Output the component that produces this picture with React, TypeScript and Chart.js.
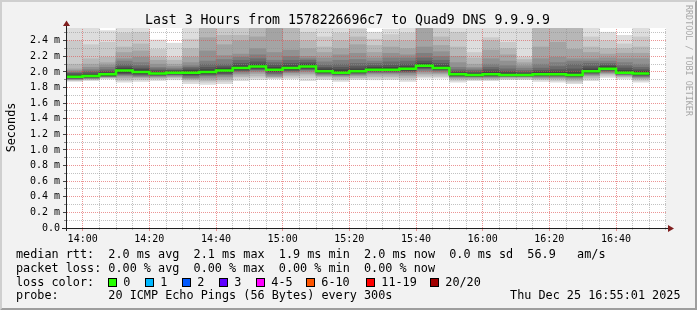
import React, { useEffect, useRef } from 'react';
import { Chart, registerables } from 'chart.js';

Chart.register(...registerables);

// ---------- data ----------
const axisStart = '13:55';
const axisEnd = '16:55';

const binStartTimes = [
  '13:55', '14:00', '14:05', '14:10', '14:15', '14:20', '14:25', '14:30', '14:35', '14:40',
  '14:45', '14:50', '14:55', '15:00', '15:05', '15:10', '15:15', '15:20', '15:25', '15:30',
  '15:35', '15:40', '15:45', '15:50', '15:55', '16:00', '16:05', '16:10', '16:15', '16:20',
  '16:25', '16:30', '16:35', '16:40', '16:45',
];

// median rtt per 5-minute bin (ms)
const medianRtt = [
  1.94, 1.95, 1.97, 2.02, 2.00, 1.98, 1.99, 1.99, 2.00, 2.02,
  2.05, 2.07, 2.03, 2.05, 2.07, 2.01, 1.99, 2.01, 2.03, 2.03,
  2.04, 2.08, 2.05, 1.97, 1.96, 1.97, 1.96, 1.96, 1.97, 1.97,
  1.96, 2.01, 2.04, 1.99, 1.98,
];

// 20 sorted ping rtts per bin (ms), read from the smoke
const smokePings = [
  [1.88, 1.89, 1.90, 1.90, 1.91, 1.91, 1.92, 1.92, 1.93, 1.93, 1.95, 1.96, 1.98, 1.99, 2.00, 2.02, 2.04, 2.10, 2.40, 2.70],
  [1.89, 1.90, 1.91, 1.91, 1.92, 1.92, 1.93, 1.93, 1.94, 1.94, 1.95, 1.97, 1.99, 2.01, 2.03, 2.06, 2.10, 2.17, 2.35, 2.70],
  [1.91, 1.92, 1.93, 1.93, 1.94, 1.94, 1.95, 1.95, 1.96, 1.96, 1.97, 1.99, 2.01, 2.03, 2.06, 2.09, 2.12, 2.19, 2.38, 2.53],
  [1.87, 1.89, 1.91, 1.93, 1.95, 1.96, 1.97, 1.98, 1.99, 2.01, 2.03, 2.05, 2.07, 2.10, 2.14, 2.17, 2.25, 2.32, 2.50, 2.70],
  [1.88, 1.90, 1.92, 1.93, 1.94, 1.95, 1.96, 1.97, 1.98, 1.99, 2.01, 2.03, 2.05, 2.08, 2.12, 2.19, 2.27, 2.36, 2.51, 2.65],
  [1.89, 1.91, 1.92, 1.93, 1.94, 1.95, 1.96, 1.96, 1.97, 1.97, 1.99, 2.00, 2.02, 2.04, 2.06, 2.10, 2.15, 2.19, 2.29, 2.41],
  [1.90, 1.92, 1.93, 1.94, 1.95, 1.96, 1.97, 1.97, 1.98, 1.98, 2.00, 2.01, 2.02, 2.03, 2.05, 2.07, 2.10, 2.15, 2.19, 2.37],
  [1.85, 1.88, 1.90, 1.91, 1.92, 1.93, 1.95, 1.96, 1.97, 1.98, 2.00, 2.02, 2.04, 2.06, 2.08, 2.12, 2.19, 2.30, 2.42, 2.70],
  [1.84, 1.87, 1.89, 1.91, 1.93, 1.95, 1.96, 1.97, 1.98, 1.99, 2.01, 2.03, 2.06, 2.10, 2.14, 2.27, 2.44, 2.60, 2.70, 2.80],
  [1.85, 1.88, 1.90, 1.92, 1.94, 1.96, 1.97, 1.98, 2.00, 2.01, 2.03, 2.05, 2.07, 2.10, 2.16, 2.21, 2.35, 2.47, 2.62, 2.75],
  [1.89, 1.92, 1.94, 1.96, 1.98, 2.00, 2.01, 2.02, 2.03, 2.04, 2.06, 2.08, 2.11, 2.15, 2.19, 2.23, 2.40, 2.47, 2.62, 2.75],
  [1.90, 1.93, 1.95, 1.98, 2.00, 2.02, 2.03, 2.04, 2.05, 2.06, 2.08, 2.10, 2.13, 2.17, 2.22, 2.30, 2.45, 2.58, 2.68, 2.80],
  [1.91, 1.92, 1.93, 1.94, 1.95, 1.97, 1.98, 2.00, 2.01, 2.02, 2.04, 2.06, 2.09, 2.12, 2.15, 2.25, 2.58, 2.62, 2.70, 2.80],
  [1.91, 1.93, 1.95, 1.97, 1.99, 2.00, 2.01, 2.02, 2.03, 2.04, 2.06, 2.08, 2.11, 2.15, 2.20, 2.28, 2.40, 2.58, 2.70, 2.80],
  [1.89, 1.93, 1.96, 1.98, 2.00, 2.02, 2.03, 2.04, 2.05, 2.06, 2.08, 2.10, 2.12, 2.15, 2.17, 2.20, 2.30, 2.40, 2.51, 2.70],
  [1.90, 1.92, 1.94, 1.95, 1.96, 1.97, 1.98, 1.99, 2.00, 2.00, 2.02, 2.04, 2.06, 2.09, 2.13, 2.18, 2.25, 2.32, 2.45, 2.70],
  [1.88, 1.90, 1.92, 1.94, 1.95, 1.96, 1.97, 1.97, 1.98, 1.98, 2.00, 2.03, 2.06, 2.10, 2.15, 2.22, 2.30, 2.40, 2.50, 2.70],
  [1.90, 1.92, 1.93, 1.95, 1.96, 1.97, 1.98, 1.99, 2.00, 2.00, 2.02, 2.04, 2.07, 2.11, 2.16, 2.24, 2.35, 2.45, 2.55, 2.70],
  [1.90, 1.92, 1.94, 1.96, 1.98, 1.99, 2.00, 2.01, 2.02, 2.02, 2.04, 2.06, 2.08, 2.11, 2.14, 2.18, 2.25, 2.34, 2.42, 2.51],
  [1.90, 1.92, 1.94, 1.96, 1.98, 1.99, 2.00, 2.01, 2.02, 2.02, 2.04, 2.06, 2.09, 2.13, 2.18, 2.24, 2.32, 2.40, 2.48, 2.55],
  [1.88, 1.91, 1.93, 1.95, 1.97, 1.99, 2.00, 2.01, 2.02, 2.03, 2.05, 2.07, 2.10, 2.14, 2.18, 2.22, 2.30, 2.40, 2.50, 2.70],
  [1.92, 1.94, 1.96, 1.98, 2.00, 2.02, 2.04, 2.05, 2.06, 2.07, 2.09, 2.11, 2.14, 2.18, 2.24, 2.32, 2.58, 2.65, 2.75, 2.85],
  [1.92, 1.94, 1.96, 1.98, 1.99, 2.01, 2.02, 2.03, 2.04, 2.04, 2.06, 2.08, 2.11, 2.15, 2.20, 2.26, 2.34, 2.45, 2.58, 2.70],
  [1.87, 1.89, 1.91, 1.92, 1.93, 1.94, 1.95, 1.95, 1.96, 1.96, 1.98, 1.99, 2.01, 2.03, 2.06, 2.12, 2.20, 2.32, 2.51, 2.70],
  [1.89, 1.90, 1.91, 1.92, 1.93, 1.94, 1.94, 1.95, 1.95, 1.96, 1.97, 1.98, 2.00, 2.02, 2.04, 2.06, 2.10, 2.18, 2.25, 2.70],
  [1.89, 1.90, 1.91, 1.92, 1.93, 1.94, 1.95, 1.95, 1.96, 1.96, 1.98, 2.00, 2.03, 2.06, 2.10, 2.17, 2.28, 2.40, 2.44, 2.70],
  [1.90, 1.91, 1.92, 1.93, 1.94, 1.94, 1.95, 1.95, 1.96, 1.96, 1.97, 1.99, 2.01, 2.04, 2.08, 2.14, 2.22, 2.30, 2.38, 2.70],
  [1.90, 1.91, 1.92, 1.93, 1.94, 1.94, 1.95, 1.95, 1.96, 1.96, 1.97, 1.98, 2.00, 2.02, 2.05, 2.08, 2.12, 2.16, 2.19, 2.65],
  [1.88, 1.90, 1.91, 1.92, 1.93, 1.94, 1.95, 1.96, 1.96, 1.97, 1.98, 2.00, 2.02, 2.05, 2.10, 2.17, 2.32, 2.60, 2.70, 2.80],
  [1.87, 1.89, 1.91, 1.92, 1.93, 1.94, 1.95, 1.96, 1.96, 1.97, 1.98, 2.00, 2.03, 2.07, 2.12, 2.19, 2.38, 2.60, 2.70, 2.80],
  [1.85, 1.87, 1.89, 1.91, 1.92, 1.93, 1.94, 1.95, 1.95, 1.96, 1.97, 2.00, 2.04, 2.10, 2.14, 2.17, 2.29, 2.60, 2.70, 2.80],
  [1.89, 1.91, 1.93, 1.95, 1.96, 1.97, 1.98, 1.99, 2.00, 2.00, 2.02, 2.04, 2.07, 2.11, 2.14, 2.17, 2.25, 2.32, 2.45, 2.70],
  [1.93, 1.95, 1.97, 1.98, 1.99, 2.00, 2.01, 2.02, 2.03, 2.03, 2.05, 2.07, 2.09, 2.11, 2.14, 2.18, 2.23, 2.30, 2.40, 2.51],
  [1.91, 1.93, 1.94, 1.95, 1.96, 1.97, 1.97, 1.98, 1.98, 1.99, 2.00, 2.02, 2.05, 2.08, 2.12, 2.17, 2.24, 2.30, 2.36, 2.47],
  [1.87, 1.89, 1.91, 1.92, 1.93, 1.94, 1.95, 1.96, 1.97, 1.97, 1.99, 2.01, 2.03, 2.06, 2.10, 2.17, 2.24, 2.32, 2.45, 2.70],
];

const xTickLabels = ['14:00', '14:20', '14:40', '15:00', '15:20', '15:40', '16:00', '16:20', '16:40'];
const yTickLabels = ['0.0', '0.2 m', '0.4 m', '0.6 m', '0.8 m', '1.0 m', '1.2 m', '1.4 m', '1.6 m', '1.8 m', '2.0 m', '2.2 m', '2.4 m'];
const yMaxMs = 2.564;

const titleText = 'Last 3 Hours from 1578226696c7 to Quad9 DNS 9.9.9.9';
const yAxisTitle = 'Seconds';
const watermark = 'RRDTOOL / TOBI OETIKER';
const legendLine1 = 'median rtt:  2.0 ms avg  2.1 ms max  1.9 ms min  2.0 ms now  0.0 ms sd  56.9   am/s';
const legendLine2 = 'packet loss: 0.00 % avg  0.00 % max  0.00 % min  0.00 % now';
const legendLine3 = 'loss color:';
const legendLine4 = 'probe:       20 ICMP Echo Pings (56 Bytes) every 300s';
const dateStamp = 'Thu Dec 25 16:55:01 2025';
const lossLabels = ['0', '1', '2', '3', '4-5', '6-10', '11-19', '20/20'];
const lossColors = ['#26ff00', '#00b8ff', '#0059ff', '#5e00ff', '#ff00ff', '#ff5500', '#ff0000', '#a10000'];

// ---------- styles ----------
const smokeGrays = ['#dddddd', '#cacaca', '#b7b7b7', '#a4a4a4', '#919191', '#7e7e7e', '#6b6b6b', '#585858', '#454545', '#323232'];
const MONO = '"DejaVu Sans Mono", monospace';
const GRID = 'rgba(143,143,143,0.55)';
const MGRID = 'rgba(222,79,79,0.6)';
const TRANSPARENT = 'rgba(0,0,0,0)';
const lossBoxX = [108.5, 145.5, 182.5, 219.5, 256.5, 306.5, 366.5, 430.5];

const toMin = (t: string) => {
  const [h, m] = t.split(':').map(Number);
  return h * 60 + m;
};
const startMin = toMin(axisStart);
const minToLabel = (v: number) => {
  const total = Math.round(startMin + v);
  const h = Math.floor(total / 60);
  const m = total % 60;
  return String(h).padStart(2, '0') + ':' + String(m).padStart(2, '0');
};
const isMajorY = (v: number) => Math.round(v * 10) % 2 === 0;

// dotted grid, drawn pixel by pixel from the chart's own scale ticks
const drawGrid = (chart: any) => {
  const { ctx, chartArea: a, scales } = chart;
  const xs = scales.x;
  const ys = scales.y;
  const left = Math.round(a.left);
  const right = Math.round(a.right);
  const top = Math.round(a.top);
  const bottom = Math.round(a.bottom);
  ctx.save();
  xs.ticks.forEach((t: any) => {
    let px = Math.floor(xs.getPixelForValue(t.value));
    if (px <= left + 1) return;
    px = Math.min(px, right - 1);
    ctx.fillStyle = xTickLabels.includes(minToLabel(t.value)) ? MGRID : GRID;
    for (let y = bottom - 1; y >= top; y -= 2) ctx.fillRect(px, y, 1, 1);
  });
  ys.ticks.forEach((t: any) => {
    const py = Math.floor(ys.getPixelForValue(t.value));
    if (py >= bottom - 1) return;
    ctx.fillStyle = isMajorY(t.value) ? MGRID : GRID;
    for (let x = left + 1; x < right; x += 2) ctx.fillRect(x, py, 1, 1);
  });
  ctx.restore();
};

const decorPlugin = {
  id: 'rrdDecor',
  beforeDraw(chart: any) {
    const { ctx, width, height, chartArea: a } = chart;
    ctx.save();
    ctx.fillStyle = '#f2f2f2';
    ctx.fillRect(0, 0, width, height);
    ctx.fillStyle = '#cfcfcf';
    ctx.beginPath();
    ctx.moveTo(0, 0); ctx.lineTo(width, 0); ctx.lineTo(width - 2, 2); ctx.lineTo(2, 2);
    ctx.lineTo(2, height - 2); ctx.lineTo(0, height); ctx.closePath(); ctx.fill();
    ctx.fillStyle = '#9e9e9e';
    ctx.beginPath();
    ctx.moveTo(width, 0); ctx.lineTo(width, height); ctx.lineTo(0, height); ctx.lineTo(2, height - 2);
    ctx.lineTo(width - 2, height - 2); ctx.lineTo(width - 2, 2); ctx.closePath(); ctx.fill();
    ctx.fillStyle = '#ffffff';
    ctx.fillRect(a.left, a.top, a.right - a.left, a.bottom - a.top);
    ctx.restore();
  },
  beforeDatasetDraw(chart: any, args: any) {
    // grid goes over the smoke but under the median line
    if (args.meta.type === 'line') drawGrid(chart);
  },
  afterDraw(chart: any) {
    const { ctx, chartArea: a, scales } = chart;
    const xs = scales.x;
    const ys = scales.y;
    ctx.save();
    // tick marks
    xs.ticks.forEach((t: any) => {
      const px = Math.floor(xs.getPixelForValue(t.value));
      if (px <= a.left + 1) return;
      const major = xTickLabels.includes(minToLabel(t.value));
      ctx.fillStyle = major ? MGRID : GRID;
      ctx.fillRect(Math.min(px, Math.round(a.right) - 1), Math.round(a.bottom) + 1, 1, major ? 2 : 1);
    });
    ys.ticks.forEach((t: any) => {
      const py = Math.floor(ys.getPixelForValue(t.value));
      const major = isMajorY(t.value);
      ctx.fillStyle = major ? '#444' : '#888';
      ctx.fillRect(Math.round(a.left) - (major ? 3 : 2), py, major ? 3 : 2, 1);
    });
    // axes
    ctx.strokeStyle = '#1f1f1f';
    ctx.lineWidth = 1;
    ctx.beginPath();
    ctx.moveTo(a.left - 4, a.bottom + 0.5);
    ctx.lineTo(a.right + 2, a.bottom + 0.5);
    ctx.moveTo(a.left + 0.5, a.bottom + 3);
    ctx.lineTo(a.left + 0.5, a.top - 2);
    ctx.stroke();
    ctx.fillStyle = '#801f1f';
    ctx.beginPath();
    ctx.moveTo(a.right + 2, a.bottom - 3);
    ctx.lineTo(a.right + 8, a.bottom + 0.5);
    ctx.lineTo(a.right + 2, a.bottom + 4);
    ctx.closePath(); ctx.fill();
    ctx.beginPath();
    ctx.moveTo(a.left - 3, a.top - 2);
    ctx.lineTo(a.left + 0.5, a.top - 7.5);
    ctx.lineTo(a.left + 4, a.top - 2);
    ctx.closePath(); ctx.fill();

    // title
    ctx.fillStyle = '#000';
    ctx.textBaseline = 'alphabetic';
    ctx.font = `13.2px ${MONO}`;
    ctx.textAlign = 'center';
    ctx.fillText(titleText, 347.5, 24);

    // y axis title
    ctx.save();
    ctx.font = `11.8px ${MONO}`;
    ctx.translate(15.3, 127.5);
    ctx.rotate(-Math.PI / 2);
    ctx.textAlign = 'center';
    ctx.fillText(yAxisTitle, 0, 0);
    ctx.restore();

    // watermark
    ctx.save();
    ctx.font = `8.4px ${MONO}`;
    ctx.fillStyle = '#a8a8a8';
    ctx.translate(685.5, 5);
    ctx.rotate(Math.PI / 2);
    ctx.textAlign = 'left';
    ctx.fillText(watermark, 0, 0);
    ctx.restore();

    // legend
    ctx.font = `11.8px ${MONO}`;
    ctx.textAlign = 'left';
    ctx.fillStyle = '#000';
    ctx.fillText(legendLine1, 16, 258.3);
    ctx.fillText(legendLine2, 16, 272);
    ctx.fillText(legendLine3, 16, 285.5);
    ctx.fillText(legendLine4, 16, 299);
    ctx.textAlign = 'right';
    ctx.fillText(dateStamp, 680.5, 299);
    ctx.textAlign = 'left';
    lossLabels.forEach((lab, i) => {
      const bx = lossBoxX[i];
      ctx.fillStyle = lossColors[i];
      ctx.fillRect(bx, 278.5, 8, 8);
      ctx.strokeStyle = '#000';
      ctx.lineWidth = 1;
      ctx.strokeRect(bx, 278.5, 8, 8);
      ctx.fillStyle = '#000';
      ctx.fillText(lab, bx + 14.8, 285.5);
    });
    ctx.restore();
  },
};

export default function App() {
  const ref = useRef<HTMLCanvasElement>(null);

  useEffect(() => {
    const prevMargin = document.body.style.margin;
    document.body.style.margin = '0';
    if (!ref.current) return;

    const binCenters = binStartTimes.map((t) => toMin(t) - startMin + 2.5);
    const binStarts = binStartTimes.map((t) => toMin(t) - startMin);
    const lastEnd = binStarts[binStarts.length - 1] + 5;

    const smokeDatasets = smokeGrays.map((color, k) => ({
      type: 'bar' as const,
      label: 'smoke' + (k + 1),
      data: smokePings.map((row, i) => ({ x: binCenters[i], y: [row[k], row[row.length - 1 - k]] })),
      backgroundColor: color,
      borderWidth: 0,
      grouped: false,
      barPercentage: 1,
      categoryPercentage: 1,
      order: 20 - k,
    }));

    const medianPoints = medianRtt.map((v, i) => ({ x: binStarts[i], y: v }));
    medianPoints.push({ x: lastEnd, y: medianRtt[medianRtt.length - 1] });

    const chart = new Chart(ref.current, {
      type: 'bar',
      data: {
        datasets: [
          ...smokeDatasets,
          {
            type: 'line' as const,
            label: 'median',
            data: medianPoints,
            borderColor: lossColors[0],
            borderWidth: 2.5,
            pointRadius: 0,
            stepped: true,
            fill: false,
            order: 0,
          } as any,
        ],
      },
      options: {
        animation: false,
        responsive: false,
        maintainAspectRatio: false,
        devicePixelRatio: 1,
        events: [],
        layout: { padding: { top: 28, right: 31, bottom: 0, left: 0 } },
        plugins: { legend: { display: false }, tooltip: { enabled: false }, title: { display: false } },
        scales: {
          x: {
            type: 'linear',
            min: 0,
            max: toMin(axisEnd) - startMin,
            offset: false,
            afterFit: (s: any) => { s.height = 82; },
            grid: {
              offset: false,
              color: TRANSPARENT,
              tickColor: TRANSPARENT,
              tickLength: 3,
              drawTicks: true,
            },
            border: { display: false },
            ticks: {
              stepSize: 5,
              autoSkip: false,
              maxRotation: 0,
              minRotation: 0,
              padding: 2,
              color: '#000',
              font: { family: MONO, size: 10 },
              callback: (v: any) => {
                const lab = minToLabel(Number(v));
                return xTickLabels.includes(lab) ? lab : '';
              },
            },
          },
          y: {
            type: 'linear',
            min: 0,
            max: yMaxMs,
            afterFit: (s: any) => { s.width = 66; },
            grid: {
              color: TRANSPARENT,
              tickColor: TRANSPARENT,
              tickLength: 3,
            },
            border: { display: false },
            ticks: {
              stepSize: 0.1,
              includeBounds: false,
              autoSkip: false,
              padding: 3,
              color: '#000',
              font: { family: MONO, size: 10 },
              callback: (v: any) => {
                const t = Math.round(Number(v) * 10);
                return t % 2 === 0 ? yTickLabels[t / 2] ?? '' : '';
              },
            },
          },
        },
      } as any,
      plugins: [decorPlugin],
    });

    return () => {
      chart.destroy();
      document.body.style.margin = prevMargin;
    };
  }, []);

  return (
    <div style={{ position: 'absolute', left: 0, top: 0, width: 697, height: 310 }}>
      <canvas ref={ref} width={697} height={310} style={{ display: 'block', width: 697, height: 310 }} />
    </div>
  );
}
